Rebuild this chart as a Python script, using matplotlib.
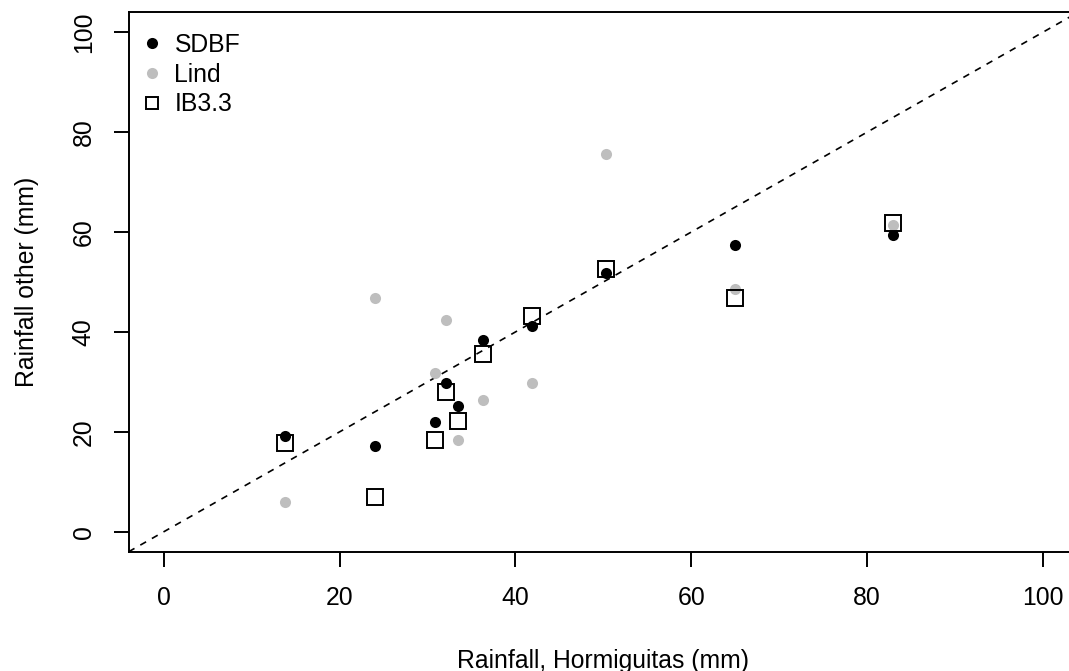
import matplotlib
matplotlib.use("Agg")
import matplotlib.pyplot as plt
from matplotlib.lines import Line2D

plt.rcParams['font.family'] = ['Liberation Sans', 'DejaVu Sans']

# Data
hormiguitas = [13.8, 24.05, 30.9, 32.1, 33.5, 36.3, 41.9, 50.3, 65.0, 83.0]
sdbf = [19.1, 17.1, 21.9, 29.8, 25.1, 38.3, 41.2, 51.8, 57.5, 59.5]
lind = [6.0, 46.8, 31.8, 42.4, 18.3, 26.3, 29.8, 75.7, 48.6, 61.5]
ib33 = [17.8, 7.0, 18.3, 27.9, 22.1, 35.5, 43.2, 52.6, 46.7, 61.8]
series_names = ["SDBF", "Lind", "IB3.3"]
xticks = [0, 20, 40, 60, 80, 100]
yticks = [0, 20, 40, 60, 80, 100]

W, H = 1069, 671
fig = plt.figure(figsize=(W / 100, H / 100), dpi=100)
left, right, top, bottom = 128.7, 1078.0, 12.3, 551.7
ax = fig.add_axes([left / W, (H - bottom) / H, (right - left) / W, (bottom - top) / H])

FS = 17.8
GREY = "#BEBEBE"
DOT = 8.0

ax.axline((0, 0), slope=1, color="black", lw=1.2, ls=(0, (4, 4)), zorder=1)
ax.plot(hormiguitas, sdbf, "o", color="black", ms=DOT, mew=0, zorder=2)
ax.plot(hormiguitas, lind, "o", color=GREY, ms=DOT, mew=0, zorder=3)
ax.plot(hormiguitas, ib33, "s", mfc="none", mec="black", ms=12, mew=1.4, zorder=4)

ax.set_xlim(-4, 104)
ax.set_ylim(-4, 104)
ax.set_xticks(xticks)
ax.set_yticks(yticks)
ax.set_xticklabels([str(t) for t in xticks], fontsize=FS)
ax.set_yticklabels([str(t) for t in yticks], fontsize=FS, rotation=90, va="center")
ax.tick_params(axis="both", length=10.8, width=1.4, color="black")
ax.tick_params(axis="x", pad=14)
ax.tick_params(axis="y", pad=13)
for s in ax.spines.values():
    s.set_linewidth(1.4)
    s.set_color("black")

fig.text(603 / W, 1 - 668 / H, "Rainfall, Hormiguitas (mm)", fontsize=FS,
         ha="center", va="baseline")
fig.text(34 / W, 1 - 282 / H, "Rainfall other (mm)", fontsize=FS,
         rotation=90, rotation_mode="anchor", ha="center", va="baseline")

handles = [
    Line2D([], [], ls="none", marker="o", color="black", ms=DOT, mew=0),
    Line2D([], [], ls="none", marker="o", color=GREY, ms=DOT, mew=0),
    Line2D([], [], ls="none", marker="s", mfc="none", mec="black", ms=8.5, mew=1.4),
]
hl = 1.0
fs_px = FS * 100 / 72
ax_w = right - left
ax_h = bottom - top
tpad = 0.42
anchor_x = (151.7 - hl * fs_px / 2 - left) / ax_w
anchor_y = 1 - (33.0 - top) / ax_h
ax.legend(handles, series_names, loc="upper left", bbox_to_anchor=(anchor_x, anchor_y),
          frameon=False, fontsize=FS, handlelength=hl, handletextpad=tpad,
          borderpad=0, borderaxespad=0, labelspacing=0.23)

fig.savefig("out.png", dpi=100)
